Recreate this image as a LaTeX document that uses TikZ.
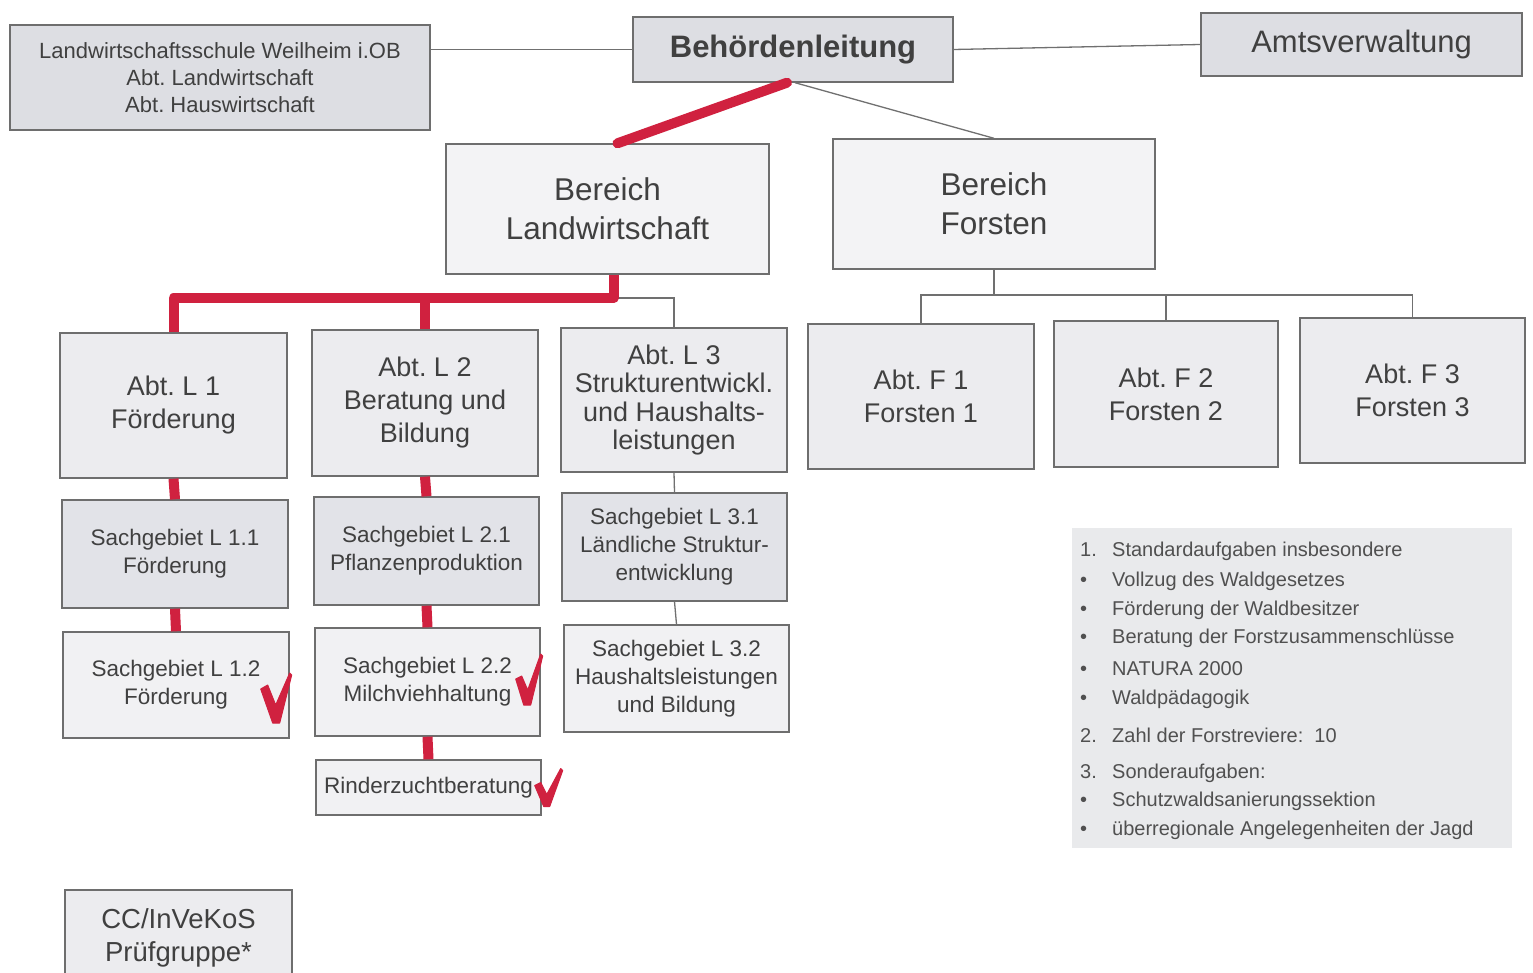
\documentclass[tikz,border=0pt]{standalone}
\usepackage{fontspec}
\setmainfont{Liberation Sans}
\frenchspacing
\definecolor{boxfill}{HTML}{ECECEF}
\definecolor{boxdark}{HTML}{DDDEE3}
\definecolor{boxlight}{HTML}{F3F3F5}
\definecolor{sgdark}{HTML}{E2E3E8}
\definecolor{sglight}{HTML}{F1F1F3}
\definecolor{bordergray}{HTML}{6E6E6E}
\definecolor{linegray}{HTML}{707070}
\definecolor{textgray}{HTML}{404040}
\definecolor{leggray}{HTML}{505050}
\definecolor{legfill}{HTML}{E9EAEC}
\definecolor{markred}{HTML}{D0213F}
\begin{document}
\begin{tikzpicture}[x=1pt,y=-1pt,
  box/.style={draw=bordergray, line width=1.4pt, fill=boxfill, text=textgray, align=center, inner sep=0pt},
  conn/.style={draw=linegray, line width=1.3pt},
  marker/.style={draw=markred, line width=10pt, line join=round},
  check/.style={fill=markred, draw=markred, line width=1pt, line join=round},
  legtext/.style={anchor=west, text=leggray, font=\fontsize{20}{24}\selectfont, inner sep=0pt},
  fsS/.style={font=\fontsize{22}{27}\selectfont},
  fsSG/.style={font=\fontsize{22.5}{28}\selectfont},
  fsAbt/.style={font=\fontsize{27}{33}\selectfont},
  fsBer/.style={font=\fontsize{31.5}{39}\selectfont}]
\fill[white] (0,0) rectangle (1533,973);
\useasboundingbox (0,0) rectangle (1533,973);

% top row
\node[box, fill=boxdark, minimum width=420pt, minimum height=105pt, fsS] (schule) at (220,77.5)
  {Landwirtschaftsschule Weilheim i.OB\\Abt. Landwirtschaft\\Abt. Hauswirtschaft};
\node[box, fill=boxdark, minimum width=320pt, minimum height=65pt, font=\bfseries\fontsize{31}{36}\selectfont] (behoerde) at (793,49.5) {Behördenleitung};
\node[box, fill=boxdark, minimum width=321pt, minimum height=63pt, font=\fontsize{31}{36}\selectfont] (amts) at (1361.5,44.5) {Amtsverwaltung};

% Bereiche
\node[box, fill=boxlight, minimum width=323pt, minimum height=130pt, fsBer] (bl) at (607.5,209) {Bereich\\Landwirtschaft};
\node[box, fill=boxlight, minimum width=322pt, minimum height=130pt, fsBer] (bf) at (994,204) {Bereich\\Forsten};

% Abteilungen
\node[box, minimum width=227pt, minimum height=145pt, fsAbt] (l1) at (173.5,405.5) {Abt. L 1\\Förderung};
\node[box, minimum width=226pt, minimum height=146pt, fsAbt] (l2) at (425,403) {Abt. L 2\\Beratung und\\Bildung};
\node[box, minimum width=226pt, minimum height=144pt, font=\fontsize{27}{28.5}\selectfont] (l3) at (674,400) {Abt. L 3\\Strukturentwickl.\\und Haushalts-\\leistungen};
\node[box, minimum width=226pt, minimum height=145pt, fsAbt] (f1) at (921,396.5) {Abt. F 1\\Forsten 1};
\node[box, minimum width=224pt, minimum height=146pt, fsAbt] (f2) at (1166,394) {Abt. F 2\\Forsten 2};
\node[box, minimum width=225pt, minimum height=145pt, fsAbt] (f3) at (1412.5,390.5) {Abt. F 3\\Forsten 3};

% Sachgebiete
\node[box, fill=sgdark, minimum width=226pt, minimum height=108pt, fsSG] (s11) at (175,554) {Sachgebiet L 1.1\\Förderung};
\node[box, fill=sgdark, minimum width=225pt, minimum height=108pt, fsSG] (s21) at (426.5,551) {Sachgebiet L 2.1\\Pflanzenproduktion};
\node[box, fill=sgdark, minimum width=225pt, minimum height=108pt, fsSG] (s31) at (674.5,547) {Sachgebiet L 3.1\\Ländliche Struktur-\\entwicklung};
\node[box, fill=sglight, minimum width=226pt, minimum height=106pt, fsSG] (s12) at (176,685) {Sachgebiet L 1.2\\Förderung};
\node[box, fill=sglight, minimum width=225pt, minimum height=108pt, fsSG] (s22) at (427.5,682) {Sachgebiet L 2.2\\Milchviehhaltung};
\node[box, fill=sglight, minimum width=225pt, minimum height=107pt, fsSG] (s32) at (676.5,678.5) {Sachgebiet L 3.2\\Haushaltsleistungen\\und Bildung};
\node[box, fill=sglight, minimum width=225pt, minimum height=55pt, fsSG] (rz) at (428.5,787.5) {Rinderzuchtberatung};

\node[box, minimum width=227pt, minimum height=95pt, font=\fontsize{27.5}{33}\selectfont] (cc) at (178.5,937.5) {CC/InVeKoS\\Prüfgruppe*};

% legend
\node[fill=legfill, minimum width=440pt, minimum height=320pt, inner sep=0pt] (legend) at (1292,688) {};
\node[legtext] (g1) at (1080,551) {\makebox[32pt][l]{1.}Standardaufgaben insbesondere};
\node[legtext] (g2) at (1080,581) {\makebox[32pt][l]{•}Vollzug des Waldgesetzes};
\node[legtext] (g3) at (1080,610) {\makebox[32pt][l]{•}Förderung der Waldbesitzer};
\node[legtext] (g4) at (1080,638) {\makebox[32pt][l]{•}Beratung der Forstzusammenschlüsse};
\node[legtext] (g5) at (1080,669) {\makebox[32pt][l]{•}NATURA 2000};
\node[legtext] (g6) at (1080,699) {\makebox[32pt][l]{•}Waldpädagogik};
\node[legtext] (g7) at (1080,735) {\makebox[32pt][l]{2.}Zahl der Forstreviere:\ \ 10};
\node[legtext] (g8) at (1080,773) {\makebox[32pt][l]{3.}Sonderaufgaben:};
\node[legtext] (g9) at (1080,801) {\makebox[32pt][l]{•}Schutzwaldsanierungssektion};
\node[legtext] (g10) at (1080,830) {\makebox[32pt][l]{•}überregionale Angelegenheiten der Jagd};

% connectors
\coordinate (busL) at (0,298);
\coordinate (busF) at (0,295);
\draw[conn] (schule.east |- behoerde.west) -- (behoerde.west);
\draw[conn] (behoerde.east) -- (amts.west);
\draw[conn] ([xshift=2pt]behoerde.south) -- (bf.north);
\draw[marker, line cap=round] ([xshift=-6pt]behoerde.south) -- ([xshift=10pt]bl.north);

\draw[conn] (bl.south |- busL) -- (l3.north |- busL) -- (l3.north);
\draw[marker] ([xshift=6pt]bl.south) -- ([xshift=6pt]bl.south |- busL) -- (l1.north |- busL) -- (l1.north);
\draw[marker] (l2.north |- busL) -- (l2.north);

\draw[conn] (bf.south) -- (bf.south |- busF);
\draw[conn] (f1.north) -- (f1.north |- busF) -- (f3.north |- busF) -- (f3.north);
\draw[conn] (f2.north) -- (f2.north |- busF);

\draw[marker] (l1.south) -- (s11.north);
\draw[marker] (s11.south) -- (s12.north);
\draw[marker] (l2.south) -- (s21.north);
\draw[marker] (s21.south) -- (s22.north);
\draw[marker] (s22.south) -- (rz.north);
\draw[conn] (l3.south) -- (s31.north);
\draw[conn] (s31.south) -- (s32.north);

% check marks (tapered, filled)
\filldraw[check] ([shift={(-29,4)}]s12.east) -- ([shift={(-22,0)}]s12.east) -- ([shift={(-14,20)}]s12.east)
  -- ([shift={(0,-12)}]s12.east) -- ([shift={(2,-10)}]s12.east) -- ([shift={(-10,38)}]s12.east)
  -- ([shift={(-17,38)}]s12.east) -- cycle;
\filldraw[check] ([shift={(-25,-3)}]s22.east) -- ([shift={(-19,-6)}]s22.east) -- ([shift={(-13,8)}]s22.east)
  -- ([shift={(0,-28)}]s22.east) -- ([shift={(2,-26)}]s22.east) -- ([shift={(-10,23)}]s22.east)
  -- ([shift={(-17,23)}]s22.east) -- cycle;
\filldraw[check] ([shift={(-7,-2)}]rz.east) -- ([shift={(-1,-5)}]rz.east) -- ([shift={(5,7)}]rz.east)
  -- ([shift={(19,-19)}]rz.east) -- ([shift={(21,-17)}]rz.east) -- ([shift={(8,19)}]rz.east)
  -- ([shift={(2,19)}]rz.east) -- cycle;
\end{tikzpicture}
\end{document}
